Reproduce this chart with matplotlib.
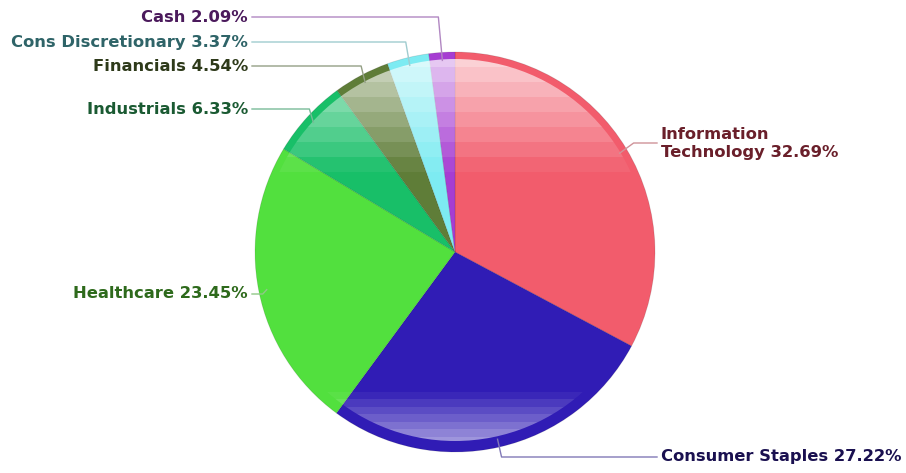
import numpy as np
import matplotlib.pyplot as plt
from matplotlib.patches import Circle, Rectangle
from matplotlib.colors import to_rgb

# sector weights (%)
sectors = ["Information\nTechnology", "Consumer Staples", "Healthcare", "Industrials",
           "Financials", "Cons Discretionary", "Cash"]
weights = [32.69, 27.22, 23.45, 6.33, 4.54, 3.37, 2.09]
slice_colors = ["#F25C6C", "#301CB5", "#52E03E", "#18BF68", "#5F7D38", "#7DEBF2", "#A63DD2"]
text_colors = ["#6A1F2A", "#1A1050", "#2E6A1C", "#1A5A32", "#2E3A1A", "#2F6468", "#4B1A5C"]

# label layout (pixel coords, y down): text x, text y, side
label_pos = [(661, 143, "right"), (661, 457, "right"), (248, 294, "left"), (248, 109, "left"),
             (248, 66, "left"), (248, 42, "left"), (248, 17, "left")]

W, H = 906, 473
cx, cy, R = 455, 252, 200

fig = plt.figure(figsize=(W / 100, H / 100), dpi=100)
ax = fig.add_axes([0, 0, 1, 1])

wedges, _ = ax.pie(weights, colors=slice_colors, center=(cx, cy), radius=R,
                   startangle=-90, counterclock=True,
                   wedgeprops=dict(edgecolor=(0, 0, 0, 0.12), linewidth=0.6))
ax.set_xlim(0, W)
ax.set_ylim(H, 0)
ax.set_aspect("equal")
ax.axis("off")

# glossy highlight at the top (stepped white bands)
top_clip = Circle((cx, cy), R * 0.965, transform=ax.transData)
band_edges = np.linspace(cy - R, 172, 9)
top_alpha = np.linspace(0.72, 0.06, 8)
for y0, y1, a in zip(band_edges[:-1], band_edges[1:], top_alpha):
    r = Rectangle((cx - R, y0), 2 * R, y1 - y0, facecolor="white", alpha=a,
                  edgecolor="none", zorder=3)
    ax.add_patch(r)
    r.set_clip_path(top_clip)

# reflection at the bottom
bot_clip = Circle((cx, cy - 2), R * 0.955, transform=ax.transData)
band_edges = np.linspace(392, cy + R, 9)
bot_alpha = np.linspace(0.05, 0.62, 8)
for y0, y1, a in zip(band_edges[:-1], band_edges[1:], bot_alpha):
    r = Rectangle((cx - R, y0), 2 * R, y1 - y0, facecolor="white", alpha=a,
                  edgecolor="none", zorder=3)
    ax.add_patch(r)
    r.set_clip_path(bot_clip)

# labels with elbow leader lines
for w, name, val, col, tcol, (tx, ty, side) in zip(wedges, sectors, weights, slice_colors,
                                                    text_colors, label_pos):
    mid = np.deg2rad((w.theta1 + w.theta2) / 2)
    ax_, ay_ = cx + 0.96 * R * np.cos(mid), cy + 0.96 * R * np.sin(mid)
    line_col = 0.4 * np.array(to_rgb(col)) + 0.6 * 0.72
    if side == "left":
        ex = ax_ - 4
        xs, ys = [tx + 4, ex, ax_], [ty, ty, ay_]
        ha = "right"
    else:
        ex = ax_ + 14 if ay_ < cy else ax_ + 4
        xs, ys = [tx - 4, ex, ax_], [ty, ty, ay_]
        ha = "left"
    ax.plot(xs, ys, color=line_col, lw=1, zorder=4)
    ax.text(tx, ty, f"{name} {val:.2f}%", ha=ha, va="center", color=tcol,
            fontsize=11.8, fontweight="bold", family="DejaVu Sans",
            multialignment="left", linespacing=1.25, zorder=5)

fig.savefig("out.png", dpi=100)
